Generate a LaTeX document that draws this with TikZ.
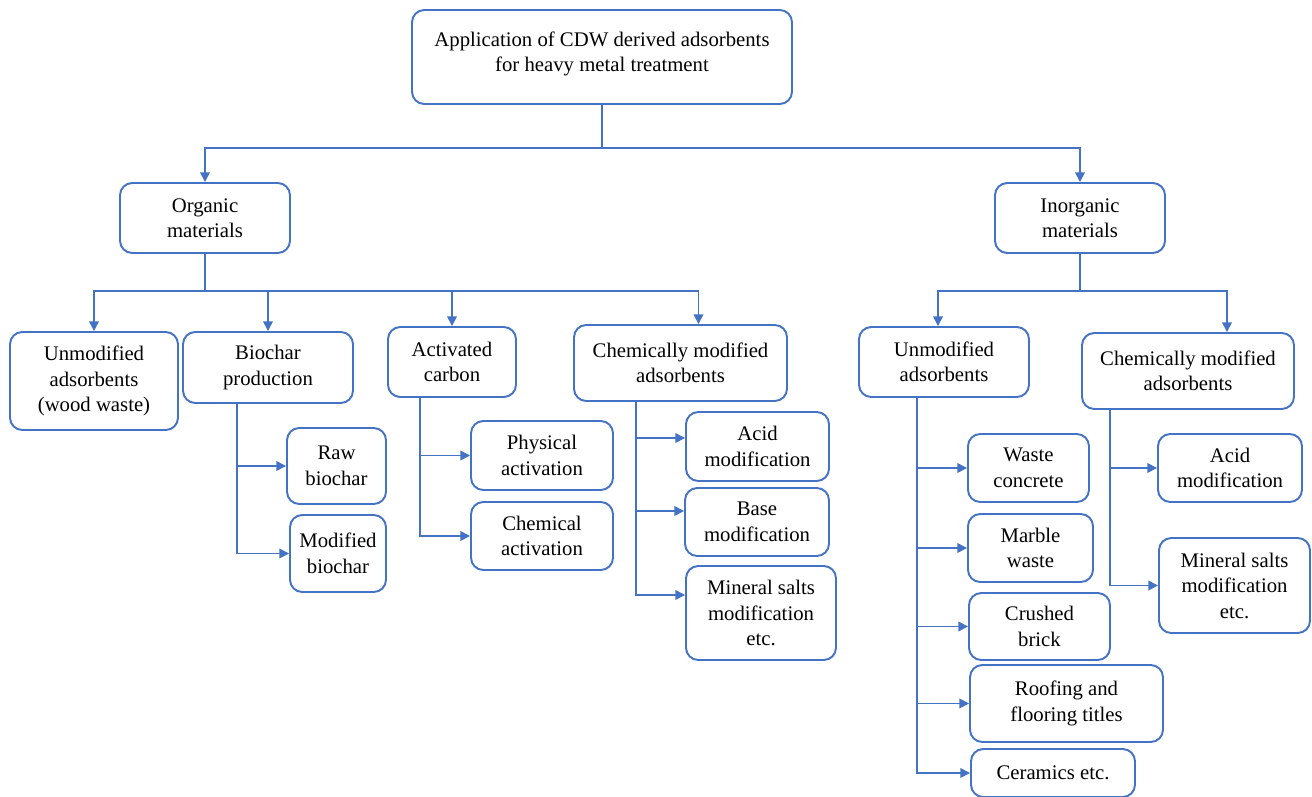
\documentclass[tikz,border=0pt]{standalone}
\usepackage{fontspec}
\setmainfont{Liberation Serif}
\usetikzlibrary{arrows.meta}
\definecolor{boxblue}{RGB}{68,114,196}

\begin{document}
\begin{tikzpicture}[x=0.02cm,y=-0.02cm,
		Box/.style={draw=boxblue,line width=1.1pt,rounded corners=7pt,align=center,inner sep=2pt,
			font=\fontsize{11.8}{14.5}\selectfont},
		Size/.style 2 args={minimum width=#1*0.02cm,minimum height=#2*0.02cm},
		Link/.style={draw=boxblue,line width=0.9pt},
		Arrow/.style={Link,-{Triangle[length=5.5pt,width=5.5pt]}}]
				\useasboundingbox[fill=white] (0,0) rectangle (1312,797);
				% top levels
				\node[Box,Size={380}{94},text depth=0.22cm] (App) at (602,57) {Application of CDW derived adsorbents\\for heavy metal treatment};
				\node[Box,Size={170}{70}] (Org) at (205,218) {Organic\\materials};
				\node[Box,Size={170}{70}] (Inorg) at (1080,218) {Inorganic\\materials};
				% organic branch
				\node[Box,Size={168}{98}] (UnmodW) at (94,381) {Unmodified\\adsorbents\\(wood waste)};
				\node[Box,Size={170}{71}] (Bio) at (268,367.5) {Biochar\\production};
				\node[Box,Size={128}{70}] (Act) at (452,362) {Activated\\carbon};
				\node[Box,Size={213}{76}] (ChemW) at (680.5,363) {Chemically modified\\adsorbents};
				\node[Box,Size={99}{76}] (Raw) at (336.5,466) {Raw\\biochar};
				\node[Box,Size={96}{77}] (ModB) at (338,553.5) {Modified\\biochar};
				\node[Box,Size={142}{69}] (Phys) at (542,455.5) {Physical\\activation};
				\node[Box,Size={142}{68}] (ChAct) at (542,536) {Chemical\\activation};
				\node[Box,Size={143}{69}] (AcidW) at (757.5,446.5) {Acid\\modification};
				\node[Box,Size={144}{68}] (BaseW) at (757,522) {Base\\modification};
				\node[Box,Size={150}{94}] (MinW) at (761,613) {Mineral salts\\modification\\etc.};
				% inorganic branch
				\node[Box,Size={170}{70}] (UnmodI) at (944,362) {Unmodified\\adsorbents};
				\node[Box,Size={212}{76}] (ChemI) at (1188,371) {Chemically modified\\adsorbents};
				\node[Box,Size={121}{68}] (Waste) at (1028.5,468) {Waste\\concrete};
				\node[Box,Size={125}{68}] (Marble) at (1030.5,548) {Marble\\waste};
				\node[Box,Size={141}{67}] (Brick) at (1039.5,626.5) {Crushed\\brick};
				\node[Box,Size={193}{77}] (Roof) at (1066.5,703.5) {Roofing and\\flooring titles};
				\node[Box,Size={164}{48}] (Cer) at (1053,773) {Ceramics etc.};
				\node[Box,Size={144}{68}] (AcidI) at (1230,468) {Acid\\modification};
				\node[Box,Size={151}{95}] (MinI) at (1234.5,585.5) {Mineral salts\\modification\\etc.};
				% connectors
				\path (App.south) ++(0,43) coordinate (J0);
				\draw[Link] (App.south) -- (J0);
				\draw[Arrow] (J0) -| (Org);
				\draw[Arrow] (J0) -| (Inorg);
				\path (Org.south) ++(0,37) coordinate (J1);
				\draw[Link] (Org.south) -- (J1);
				\draw[Arrow] (J1) -| (UnmodW);
				\draw[Arrow] (J1) -| (Bio);
				\draw[Arrow] (J1) -| (Act);
				\draw[Arrow] (J1) -| ([xshift=0.36cm]ChemW.north);
				\path (Inorg.south) ++(0,37) coordinate (J2);
				\draw[Link] (Inorg.south) -- (J2);
				\draw[Arrow] (J2) -| ([xshift=-0.12cm]UnmodI.north);
				\draw[Arrow] (J2) -| ([xshift=0.78cm]ChemI.north);
				\draw[Arrow] ([xshift=-0.62cm]Bio.south) |- (Raw);
				\draw[Arrow] ([xshift=-0.62cm]Bio.south) |- (ModB);
				\draw[Arrow] ([xshift=-0.64cm]Act.south) |- (Phys);
				\draw[Arrow] ([xshift=-0.64cm]Act.south) |- (ChAct);
				\draw[Arrow] ([xshift=-0.89cm]ChemW.south) |- ([yshift=0.17cm]AcidW.west);
				\draw[Arrow] ([xshift=-0.89cm]ChemW.south) |- ([yshift=0.22cm]BaseW.west);
				\draw[Arrow] ([xshift=-0.89cm]ChemW.south) |- ([yshift=0.36cm]MinW.west);
				\draw[Arrow] ([xshift=-0.54cm]UnmodI.south) |- (Waste);
				\draw[Arrow] ([xshift=-0.54cm]UnmodI.south) |- (Marble);
				\draw[Arrow] ([xshift=-0.54cm]UnmodI.south) |- (Brick);
				\draw[Arrow] ([xshift=-0.54cm]UnmodI.south) |- (Roof);
				\draw[Arrow] ([xshift=-0.54cm]UnmodI.south) |- (Cer);
				\draw[Arrow] ([xshift=-1.56cm]ChemI.south) |- (AcidI);
				\draw[Arrow] ([xshift=-1.56cm]ChemI.south) |- (MinI);
			\end{tikzpicture}
\end{document}
